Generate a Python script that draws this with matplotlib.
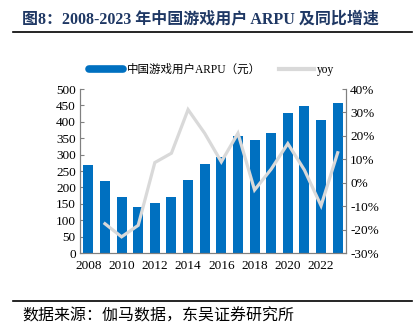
import matplotlib
matplotlib.use("Agg")
import matplotlib.pyplot as plt
from matplotlib.lines import Line2D
from matplotlib.ticker import FuncFormatter, MultipleLocator

# =========================
# Data
# =========================
years = list(range(2008, 2024))
arpu = [268, 221, 170, 139, 151, 170, 223, 270, 294, 356, 345, 365, 426, 449, 405, 457]
yoy = [None, -17.5, -23.1, -18.2, 8.6, 12.6, 31.2, 21.1, 8.9, 21.1, -3.1, 5.8, 16.7, 5.4, -9.8, 12.8]

tick_years = [2008, 2010, 2012, 2014, 2016, 2018, 2020, 2022]
bar_label = "中国游戏用户ARPU（元）"
line_label = "yoy"
title = "图8：2008-2023 年中国游戏用户 ARPU 及同比增速"
source = "数据来源：伽马数据，东吴证券研究所"

BLUE = "#0070C0"
GREY = "#D9D9D9"
TITLE_COLOR = "#1F3864"
SPINE = "#808080"

serif = ["Liberation Serif", "Noto Sans CJK SC"]
cjk = ["Noto Sans CJK SC", "Liberation Serif"]
plt.rcParams["font.family"] = serif

fig = plt.figure(figsize=(4.19, 3.32), dpi=100)
ax = fig.add_axes([80 / 419, 1 - 253 / 332, 266 / 419, 164 / 332])
ax2 = ax.twinx()

x = list(range(len(years)))
ax.bar(x, arpu, width=0.6, color=BLUE, zorder=2)

yx = [i for i, v in zip(x, yoy) if v is not None]
yv = [v for v in yoy if v is not None]
ax2.plot(yx, yv, color=GREY, lw=2.3, solid_joinstyle="miter", zorder=3)

ax.set_xlim(-0.5, len(years) - 0.5)
ax.set_ylim(0, 500)
ax2.set_ylim(-30, 40)
ax.yaxis.set_major_locator(MultipleLocator(50))
ax2.yaxis.set_major_locator(MultipleLocator(10))
ax2.yaxis.set_major_formatter(FuncFormatter(lambda v, _: f"{v:.0f}%"))

ax.set_xticks([years.index(y) for y in tick_years])
ax.set_xticklabels([str(y) for y in tick_years])

for a in (ax, ax2):
    a.set_zorder(1)
    a.patch.set_visible(False)
    a.spines["top"].set_visible(False)
    for s in ("left", "right", "bottom"):
        a.spines[s].set_color(SPINE)
        a.spines[s].set_linewidth(0.8)
    a.tick_params(labelsize=9.5, colors=SPINE, labelcolor="black", direction="in", length=3, width=0.8)
ax2.set_zorder(2)
ax.tick_params(axis="x", length=0, pad=5)
ax.tick_params(axis="y", pad=3)
ax2.tick_params(axis="y", pad=3)

# legend above the plot area
handles = [
    Line2D([], [], color=BLUE, lw=5.5, solid_capstyle="round"),
    Line2D([], [], color=GREY, lw=3),
]
leg = fig.legend(handles, [bar_label, line_label], loc="center", bbox_to_anchor=(0.505, 1 - 70 / 332),
                 ncol=2, frameon=False, handlelength=3.0, handletextpad=0.3, columnspacing=1.6,
                 prop={"family": serif, "size": 8.3})

# title and source with rules
fig.text(22 / 419, 1 - 20 / 332, title, ha="left", va="center", fontsize=11.5, fontweight="bold",
         color=TITLE_COLOR, family=serif)
fig.add_artist(Line2D([13 / 419, 412 / 419], [1 - 32 / 332] * 2, color="black", lw=1.2))
fig.add_artist(Line2D([13 / 419, 412 / 419], [1 - 301 / 332] * 2, color="black", lw=1.2))
fig.text(22 / 419, 1 - 316 / 332, source, ha="left", va="center", fontsize=11.5, family=cjk)

fig.savefig("out.png", dpi=100)
